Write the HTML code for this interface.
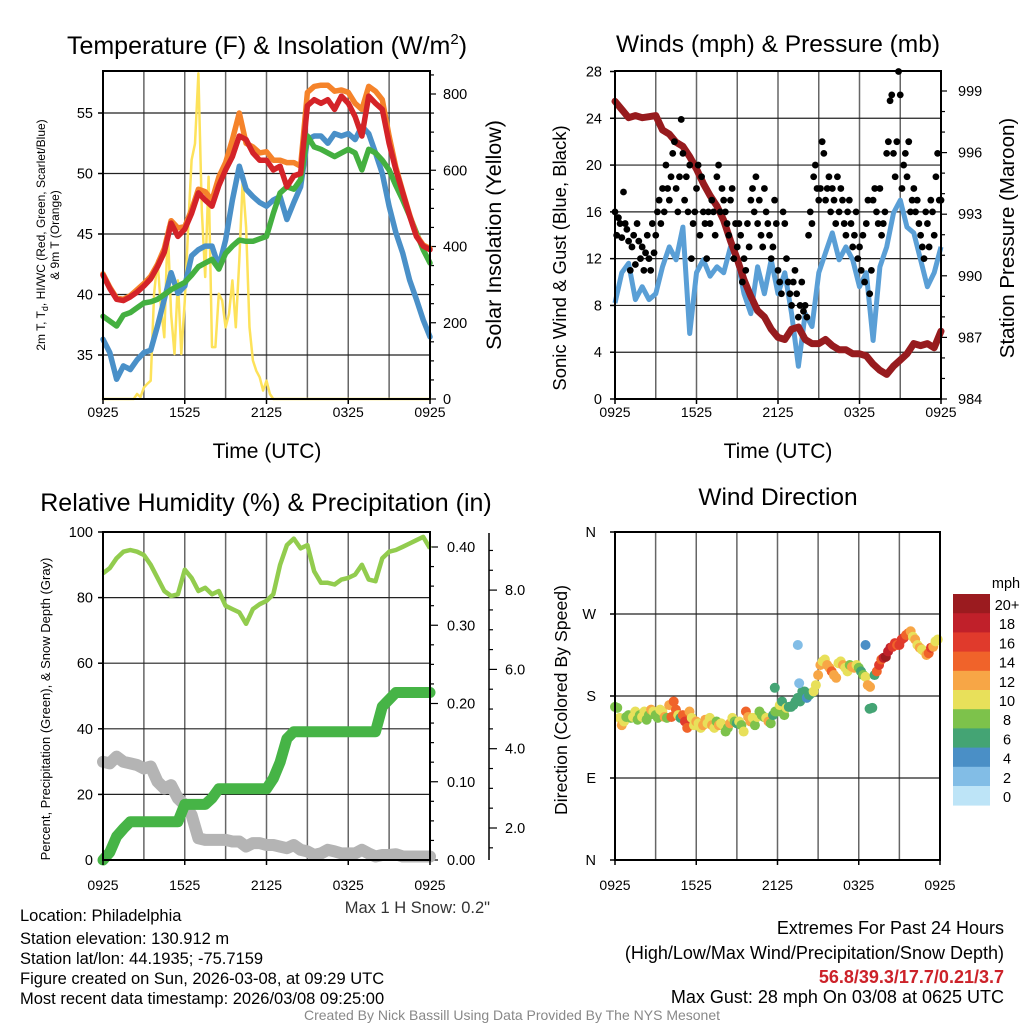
<!DOCTYPE html>
<html><head><meta charset="utf-8"><title>Station Meteogram</title>
<style>
html,body{margin:0;padding:0;background:#fff;}
svg{display:block;font-family:"Liberation Sans",Arial,sans-serif;}
</style></head>
<body>
<svg id="fig" width="1024" height="1024" viewBox="0 0 1024 1024" xmlns="http://www.w3.org/2000/svg">
<rect x="0" y="0" width="1024" height="1024" fill="#fff"/>
<!-- titles -->
<text x="267" y="54" font-size="25" text-anchor="middle">Temperature (F) &amp; Insolation (W/m<tspan font-size="15" dy="-10">2</tspan><tspan dy="10">)</tspan></text>
<text x="778" y="52" font-size="24.5" text-anchor="middle">Winds (mph) &amp; Pressure (mb)</text>
<text x="266" y="511" font-size="25" text-anchor="middle">Relative Humidity (%) &amp; Precipitation (in)</text>
<text x="778" y="505" font-size="24.5" text-anchor="middle">Wind Direction</text>
<!-- axis titles -->
<text transform="translate(45,235) rotate(-90)" font-size="12" text-anchor="middle">2m T, T<tspan font-size="9" dy="3">d</tspan><tspan dy="-3">, HI/WC (Red, Green, Scarlet/Blue)</tspan></text>
<text transform="translate(59,235) rotate(-90)" font-size="12" text-anchor="middle">&amp; 9m T (Orange)</text>
<text transform="translate(501,235) rotate(-90)" font-size="21.5" text-anchor="middle">Solar Insolation (Yellow)</text>
<text x="267" y="458" font-size="21" text-anchor="middle">Time (UTC)</text>
<text transform="translate(566,258) rotate(-90)" font-size="18.5" text-anchor="middle">Sonic Wind &amp; Gust (Blue, Black)</text>
<text transform="translate(1014,238) rotate(-90)" font-size="20.5" text-anchor="middle">Station Pressure (Maroon)</text>
<text x="778" y="458" font-size="21" text-anchor="middle">Time (UTC)</text>
<text transform="translate(50,709) rotate(-90)" font-size="13" text-anchor="middle">Percent, Precipitation (Green), &amp; Snow Depth (Gray)</text>
<text transform="translate(567,700) rotate(-90)" font-size="17.7" text-anchor="middle">Direction (Colored By Speed)</text>
<text x="490" y="913" font-size="16.5" fill="#333" text-anchor="end">Max 1 H Snow: 0.2"</text>
<!-- footer -->
<g font-size="16.5">
<text x="20" y="921">Location: Philadelphia</text>
<text x="20" y="944">Station elevation: 130.912 m</text>
<text x="20" y="964">Station lat/lon: 44.1935; -75.7159</text>
<text x="20" y="984">Figure created on Sun, 2026-03-08, at 09:29 UTC</text>
<text x="20" y="1004">Most recent data timestamp: 2026/03/08 09:25:00</text>
</g>
<g font-size="18" text-anchor="end">
<text x="1004" y="934">Extremes For Past 24 Hours</text>
<text x="1004" y="959">(High/Low/Max Wind/Precipitation/Snow Depth)</text>
<text x="1004" y="983" fill="#cc2229" font-weight="bold">56.8/39.3/17.7/0.21/3.7</text>
<text x="1004" y="1003">Max Gust: 28 mph On 03/08 at 0625 UTC</text>
</g>
<text x="512" y="1020" font-size="14" fill="#888" text-anchor="middle">Created By Nick Bassill Using Data Provided By The NYS Mesonet</text>
<g id="plots"></g>
</svg>
<script>
// ---------- DATA (30-min samples unless noted, 0925 -> 0925 UTC) ----------
const timeTicks = ["0925","1525","2125","0325","0925"];
const tempTicks = [35,40,45,50,55];
const solarTicks = [0,200,400,600,800];
const windTicks = [0,4,8,12,16,20,24,28];
const presTicks = [984,987,990,993,996,999];
const pctTicks = [0,20,40,60,80,100];
const precipTicks = ["0.00","0.10","0.20","0.30","0.40"];
const snowTicks = ["2.0","4.0","6.0","8.0"];
const dirTicks = ["N","E","S","W","N"];
const speedLabels = ["0","2","4","6","8","10","12","14","16","18","20+"];

const temp2m = [41.6,40.5,39.6,39.5,39.8,40.2,40.7,41.3,42.3,43.5,45.9,44.8,45.4,46.7,48.4,47.8,47.3,49,50.3,51.4,53.1,52.8,51.7,51.1,51.1,50.3,50.6,48.9,49.8,50,55.6,56.1,55.8,56.1,55.3,56.4,55.8,54.7,53.1,56.4,55.8,55.3,52.5,50.3,48.4,46.5,44.8,44,43.7];
const temp9m = [41.7,40.6,39.7,39.6,39.9,40.4,40.9,41.5,42.5,43.8,46.1,45.5,45.6,47,48.7,48.5,47.8,49.7,50.9,52.8,55,52.5,52.2,51.7,51.8,51.1,51.1,50.9,50.9,50.6,56.7,57.2,57.3,57.3,56.8,56.9,56.7,55.8,55.3,57.2,56.8,56.1,53.1,50.5,48.5,46.6,44.9,44.1,43.8];
const dewpoint = [38.2,37.8,37.4,38.3,38.5,38.9,39.3,39.4,39.6,40,40.4,40.7,41,41.6,42.3,42.6,42.9,42.1,43.4,44,44.5,44.4,44.4,44.6,44.8,46.7,48.4,48.9,48.7,49.5,53.1,52.2,52,51.7,51.4,51.7,52,51.7,50.3,52,51.7,51.1,50.3,49,47.8,46.5,45.1,43.7,42.6];
const windChill = [36.3,35.2,33,34.1,33.8,34.6,35.2,35.4,37.4,39.6,41.8,40.1,40.7,43.2,43.7,44,44,42.3,44.5,47.8,50.6,48.7,48.1,47.6,47.3,47.8,48.1,46.2,47.6,48.9,52.8,53.1,53.1,52.5,53.3,53.1,53.3,52.8,53.9,53.3,51.7,50,47.3,45.1,43.4,41.2,39.6,37.9,36.5];
// solar: 15-min samples
const solar = [0,0,0,0,0,0,0,0,0,0,13,5,30,40,48,276,364,241,162,451,223,118,311,118,258,451,627,670,854,495,320,583,136,136,276,258,188,223,311,188,364,574,451,188,101,74,57,22,48,13,0,0,0,0,0,0,0,0,0,0,0,0,0,0,0,0,0,0,0,0,0,0,0,0,0,0,0,0,0,0,0,0,0,0,0,0,0,0,0,0,0,0,0,0,0,0,0];

const sonicWind = [8.2,10.8,11.6,8.5,9.6,8.5,9,11.3,13,11.9,14.7,5.6,10.8,11.9,10.5,11.3,10.8,13,11.9,9,7.3,11.3,9,11.9,9,10.8,7.3,2.8,7.3,6.2,10.8,12.5,14.2,11.9,13,11.9,9.6,10.8,5,11.3,13,15.9,17,14.7,14.2,11.9,9.6,10.8,13];
const pressure = [998.5,998.1,997.7,997.8,997.7,997.75,997.8,997.1,996.9,996.5,996.3,995.8,995.2,994.5,993.9,993.4,992.7,991.7,990.8,989.8,989,988.3,988,987.4,987,986.9,987.4,987.5,986.9,986.7,986.7,986.9,986.6,986.4,986.4,986.2,986.2,986.1,985.7,985.4,985.2,985.6,985.9,986.2,986.7,986.6,986.7,986.5,987.3];
// gusts: 7.5-min samples
const gusts = [16,14,15.5,15,13.8,17.7,15,14.5, 13.5,11,13,14,11.5,15,13.5,12, 13,11,12.5,14,12,11,15,12.5, 14,16,17,15,18,16,20,18, 17,19,21,22,18,16,19,23.9, 21,17,19,16,20,12,15,16, 18,20,14,19,16,15,12,16, 15,17,16,14,19,20,16,18, 17,16,15,14,17,18,12,15, 13,15,14,10,12,11,15,13, 17,18,16,19,15,17,14,13, 18,16,15,14,12,13,17,15, 11,10,9,16,15,12,10,9, 8,10,11,9,7,8,10,7.5, 8,7,14,16,15,19,20,18, 17,18,22,21,17,18,19,16, 18,17,15,19,16,18,17,15, 14,16,17,15,13,14,16,12, 13,11,14,10,15,17,9,11, 17,18,16,15,18,14,15,16, 21,22,25.5,26,21,19,22,28, 26,18,20,21,19,22,16,17, 18,16,17,15,14,13,12,16, 15,13,17,16,14,19,21,17,17];

const relHumidity = [87.4,89,92,94,94.5,94,93,90,86,82,80.5,81,88.5,86,82,83,81,82,77.5,76.5,75.5,72,76.5,78,79,81,90,96,98,95,96,88,84.5,84.5,84,85.5,86,87,90,85.5,85,92,94,94.5,95.5,96.5,97.5,98.5,95];
const precip = [0,0.01,0.03,0.04,0.049,0.049,0.049,0.049,0.049,0.049,0.049,0.049,0.071,0.071,0.071,0.071,0.079,0.091,0.091,0.091,0.091,0.091,0.091,0.091,0.091,0.104,0.125,0.155,0.164,0.164,0.164,0.164,0.164,0.164,0.164,0.164,0.164,0.164,0.164,0.164,0.164,0.196,0.205,0.214,0.214,0.214,0.214,0.214,0.214];
const snowDepth = [3.67,3.63,3.8,3.67,3.63,3.59,3.5,3.55,3.17,3.0,3.08,2.75,2.58,2.33,1.74,1.7,1.7,1.7,1.7,1.66,1.66,1.53,1.62,1.62,1.57,1.57,1.53,1.49,1.57,1.45,1.41,1.32,1.36,1.45,1.41,1.36,1.36,1.36,1.45,1.36,1.28,1.32,1.32,1.34,1.28,1.28,1.28,1.28,1.28];

// wind direction: 10-min samples (degrees) and speed (mph)
const windDir = [168,167,156,148,152,157, 159,156,157,163,154,159, 157,163,154,159,165,163, 159,156,165,163,157,156, 170,157,174,165,159,156, 159,152,145,163,156,148, 152,150,145,148,154,150, 156,148,145,152,148,150, 148,141,145,150,156,152, 150,152,148,141,163,157, 152,156,148,157,163,159, 157,156,152,150,159,163, 163,170,174,159,167,168, 168,170,174,178,174,185, 185,178,181,183,185,192, 203,214,218,220,214,211, 207,203,200,216,218,214, 211,207,214,212,211,214, 211,207,203,201,192,190, 167,203,207,214,220,222, 223,229,233,234,238,236, 236,242,244,247,249,251, 245,242,236,233,231,229, 225,227,233,234,240,242];
const windSpd = [9,8,11,12,10,9, 8,9,11,10,8,9, 10,11,9,8,12,10, 8,9,10,11,12,9, 12,14,15,14,11,6, 15,16,15,12,11,10, 12,11,10,13,12,10, 11,12,10,8,13,11, 10,9,8,12,10,8, 7,10,8,11,14,13, 12,11,9,10,8,9, 8,10,12,9,7,8, 9,10,7,8,10,7, 6,7,6,6,7,6, 6,5,6,7,10,11, 12,13,11,10,12,13, 14,12,13,10,11,12, 10,11,9,13,12,10, 8,7,9,10,12,13, 6,7,14,16,15,18, 20,19,18,16,17,15, 16,17,16,15,14,12, 11,12,10,13,11,10, 12,15,16,12,10,11];
const extraHour = [13.5,13.6,18.5,18.8,11.8];
const extraDir = [236,194,236,166,189];
const extraSpd = [2,2,4,6,6];

const speedColors = ["#bde4f7","#82bde6","#4a8fc6","#44a474","#7dc24b","#e8e05a","#f7a646","#f0632a","#e03a2c","#c0202a","#9b1b1f"];

// ---------- helpers ----------
const NS = "http://www.w3.org/2000/svg";
const root = document.getElementById("plots");
function mk(tag, attrs, parent){
  const e = document.createElementNS(NS, tag);
  for (const k in attrs) e.setAttribute(k, attrs[k]);
  (parent||root).appendChild(e);
  return e;
}
function lin(d0,d1,r0,r1){ return v => r0 + (v-d0)*(r1-r0)/(d1-d0); }
function linePath(vals, xf, yf, step){
  return vals.map((v,i)=>(i?"L":"M")+xf(i*step).toFixed(1)+","+yf(v).toFixed(1)).join("");
}
function panelFrame(x0,x1,y0,y1,name){
  const g = mk("g",{});
  
  
  const xs = lin(0,24,x0,x1);
  for (let h=3; h<24; h+=3){
    const l = mk("line",{x1:xs(h),x2:xs(h),y1:y0,y2:y1,stroke:"#666","stroke-width":1.5},g);
    
    
  }
  return g;
}
function hgrid(g,x0,x1,y){
  const l = mk("line",{x1:x0,x2:x1,y1:y,y2:y,stroke:"#222","stroke-width":1.2},g);
  
  
}
function border(g,x0,x1,y0,y1){
  const r = mk("rect",{x:x0,y:y0,width:x1-x0,height:y1-y0,fill:"none",stroke:"#000","stroke-width":2},g);
  
  
}
function xTicks(g,x0,x1,y1,ly){
  const xs = lin(0,24,x0,x1);
  timeTicks.forEach((t,i)=>{
    const x = xs(i*6);
    mk("line",{x1:x,x2:x,y1:y1,y2:y1+5,stroke:"#000","stroke-width":1.5},g);
    const tx = mk("text",{x:x,y:ly,"font-size":14,"text-anchor":"middle"},g);
    tx.textContent = t;
    
    
  });
}
function yLabel(g,x,y,txt,anchor,size){
  const tx = mk("text",{x:x,y:y+5,"font-size":size||14.5,"text-anchor":anchor},g);
  tx.textContent = txt;
  
  
}
function tick(g,x1,x2,y,w){ mk("line",{x1:x1,x2:x2,y1:y,y2:y,stroke:"#000","stroke-width":w||1.5},g); }

// ---------- Panel 1: temperature ----------
(function(){
  const X0=103,X1=430,Y0=71,Y1=399;
  const g = panelFrame(X0,X1,Y0,Y1,"temperature-panel");
  const xs = lin(0,24,X0,X1);
  const yt = lin(35,55,355,113);
  const ys = lin(0,800,399,94);
  tempTicks.forEach(t=>{ hgrid(g,X0,X1,yt(t)); tick(g,X0-5,X0,yt(t)); yLabel(g,X0-10,yt(t),String(t),"end"); });
  for (let v=0; v<=850; v+=50){ tick(g,X1,X1+(v%200===0?6:4),ys(v),1.2); }
  solarTicks.forEach(v=>{ yLabel(g,X1+13,ys(v),String(v),"start"); });
  const series = [["solar-insolation-line",solar,ys,0.25,"#fde25a",2.5],
    ["wind-chill-line",windChill,yt,0.5,"#4a90c8",5.5],
    ["dewpoint-line",dewpoint,yt,0.5,"#44b040",5.5],
    ["temp-9m-line",temp9m,yt,0.5,"#f5832a",5.5],
    ["temp-2m-line",temp2m,yt,0.5,"#d42328",5.5]];
  series.forEach(s=>{
    const p = mk("path",{d:linePath(s[1],xs,s[2],s[3]),fill:"none",stroke:s[4],"stroke-width":s[5],"stroke-linejoin":"round","stroke-linecap":"round"},g);
    
    
  });
  border(g,X0,X1,Y0,Y1);
  xTicks(g,X0,X1,Y1,417);
})();

// ---------- Panel 2: winds & pressure ----------
(function(){
  const X0=615,X1=941,Y0=71,Y1=399;
  const g = panelFrame(X0,X1,Y0,Y1,"winds-panel");
  const xs = lin(0,24,X0,X1);
  const yw = lin(0,28,399,71.5);
  const yp = lin(984,999,399,91);
  windTicks.forEach(t=>{ if(t>0&&t<28) hgrid(g,X0,X1,yw(t)); tick(g,X0-5,X0,yw(t)); yLabel(g,X0-13,yw(t),String(t),"end"); });
  for (let v=984; v<=999.5; v+=1){ tick(g,X1,X1+(v%3===0?6:4),yp(v),1.2); }
  presTicks.forEach(v=>{ yLabel(g,X1+17,yp(v),String(v),"start"); });
  const pw = mk("path",{d:linePath(sonicWind,xs,yw,0.5),fill:"none",stroke:"#5a9fd6","stroke-width":5,"stroke-linejoin":"round"},g);
  
  
  const pp = mk("path",{d:linePath(pressure,xs,yp,0.5),fill:"none",stroke:"#971b1e","stroke-width":7,"stroke-linejoin":"round","stroke-linecap":"round"},g);
  
  
  gusts.forEach((v,i)=>{
    const c = mk("circle",{cx:xs(i/8),cy:yw(v),r:3.4,fill:"#000"},g);
    
    
  });
  border(g,X0,X1,Y0,Y1);
  xTicks(g,X0,X1,Y1,417);
})();

// ---------- Panel 3: humidity & precip ----------
(function(){
  const X0=103,X1=430,Y0=532,Y1=860;
  const g = panelFrame(X0,X1,Y0,Y1,"humidity-panel");
  const xs = lin(0,24,X0,X1);
  const yh = lin(0,100,860,532);
  const yr = lin(0,0.4,860,547);
  const ysn = lin(0,2,907.3,828);
  pctTicks.forEach(t=>{ if(t>0&&t<100) hgrid(g,X0,X1,yh(t)); tick(g,X0-5,X0,yh(t)); yLabel(g,X0-10,yh(t),String(t),"end"); });
  for (let v=0; v<=0.425; v+=0.025){ tick(g,X1,X1+(Math.abs(v*10-Math.round(v*10))<1e-6?8:4),yr(v),1.2); }
  precipTicks.forEach(v=>{ yLabel(g,X1+17,yr(parseFloat(v)),v,"start"); });
  const sa = mk("line",{x1:489,x2:489,y1:533,y2:860,stroke:"#000","stroke-width":1.5},g);
  
  
  for (let v=1.5; v<=9.5; v+=0.5){ const y=ysn(v); if(y>=533&&y<=860) tick(g,489,489+(v%2===0?8:4),y,1.2); }
  snowTicks.forEach(v=>{ yLabel(g,505,ysn(parseFloat(v)),v,"start"); });
  const ps = mk("path",{d:linePath(snowDepth,xs,ysn,0.5),fill:"none",stroke:"#b4b4b4","stroke-width":12,"stroke-linejoin":"round","stroke-linecap":"round"},g);
  
  
  const pr = mk("path",{d:linePath(precip,xs,yr,0.5),fill:"none",stroke:"#46b446","stroke-width":11,"stroke-linejoin":"round","stroke-linecap":"round"},g);
  
  
  const ph = mk("path",{d:linePath(relHumidity,xs,yh,0.5),fill:"none",stroke:"#92cc4e","stroke-width":4.5,"stroke-linejoin":"round"},g);
  
  
  border(g,X0,X1,Y0,Y1);
  xTicks(g,X0,X1,Y1,890);
})();

// ---------- Panel 4: wind direction ----------
(function(){
  const X0=615,X1=940,Y0=532,Y1=860;
  const g = panelFrame(X0,X1,Y0,Y1,"wind-direction-panel");
  const xs = lin(0,24,X0,X1);
  const yd = lin(0,360,860,532);
  dirTicks.forEach((t,i)=>{ const y=yd(i*90); if(i>0&&i<4) hgrid(g,X0,X1,y); tick(g,X0-5,X0,y); yLabel(g,X0-19,y,t,"end"); });
  const col = s => speedColors[Math.min(10,Math.floor(s/2))];
  windDir.forEach((d,i)=>{
    const c = mk("circle",{cx:xs(i/6),cy:yd(d),r:5,fill:col(windSpd[i])},g);
    
    
  });
  extraDir.forEach((d,i)=>{
    const c = mk("circle",{cx:xs(extraHour[i]),cy:yd(d),r:5,fill:col(extraSpd[i])},g);
    
    
  });
  border(g,X0,X1,Y0,Y1);
  xTicks(g,X0,X1,Y1,890);
  const cb = mk("g",{},root);
  
  
  const unit = mk("text",{x:1006,y:588,"font-size":14.5,"text-anchor":"middle"},cb);
  unit.textContent = "mph";
  
  
  speedLabels.forEach((lab,i)=>{
    const k = 10-i;
    const y = 594 + i*19.2;
    const r = mk("rect",{x:953,y:y,width:37,height:19.6,fill:speedColors[k]},cb);
    
    
    const t = mk("text",{x:1007,y:y+16,"font-size":14.5,"text-anchor":"middle"},cb);
    t.textContent = speedLabels[k];
    
    
  });
})();
</script>
</body></html>
